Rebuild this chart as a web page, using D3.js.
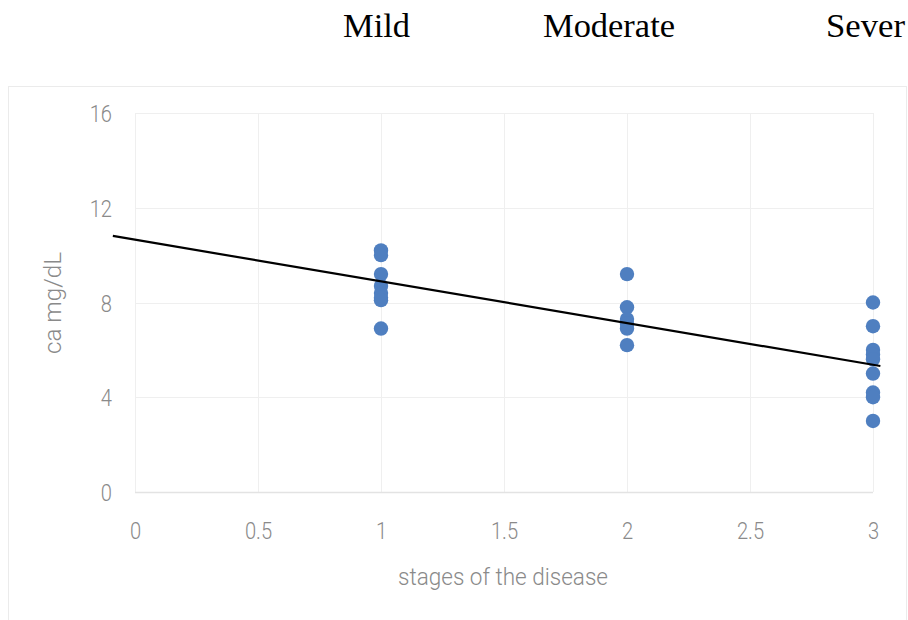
<!DOCTYPE html>
<html><head><meta charset="utf-8">
<script src="https://cdn.jsdelivr.net/npm/d3@7"></script>
<style>
html,body{margin:0;padding:0;background:#fff;}
svg{display:block;}
</style></head>
<body>
<svg id="chart" width="908" height="620"></svg>
<script>
// Data
const stages = [1, 2, 3];
const mildValues = [10.2, 10.0, 9.2, 8.7, 8.4, 8.2, 8.1, 6.9];
const moderateValues = [9.2, 7.8, 7.3, 7.1, 6.9, 6.2];
const severeValues = [8.0, 7.0, 6.0, 5.8, 5.6, 5.0, 4.2, 4.0, 3.0];
const trendX = [-0.09, 3.03];
const trendY = [10.81, 5.32];
const xTicks = [0, 0.5, 1, 1.5, 2, 2.5, 3];
const yTicks = [0, 4, 8, 12, 16];
const headerLabels = ["Mild", "Moderate", "Sever"];

(function () {
const svg = d3.select("#chart");
const pLeft = 135, pRight = 873, pTop = 113, pBottom = 492;
const x = d3.scaleLinear().domain([0, 3]).range([pLeft, pRight]);
const y = d3.scaleLinear().domain([0, 16]).range([pBottom, pTop]);

// outer chart border
svg.append("rect").attr("x", 8.5).attr("y", 86.5).attr("width", 898).attr("height", 540)
  .attr("fill", "none").attr("stroke", "#ebebeb").attr("stroke-width", 1);

// header labels
const headerPos = [{x: 343, w: 67}, {x: 543, w: 132}, {x: 826, w: 79}];
svg.selectAll("text.hdr").data(headerLabels).join("text")
  .attr("class", "hdr")
  .attr("x", (d, i) => headerPos[i].x)
  .attr("y", 37)
  .attr("textLength", (d, i) => headerPos[i].w)
  .attr("lengthAdjust", "spacingAndGlyphs")
  .attr("font-family", "'Liberation Serif', 'Times New Roman', serif")
  .attr("font-size", 34)
  .attr("fill", "#000")
  .text(d => d);

// gridlines
const grid = svg.append("g");
grid.selectAll("line.h").data(yTicks.filter(d => d > 0)).join("line")
  .attr("x1", pLeft).attr("x2", pRight)
  .attr("y1", d => Math.round(y(d)) + 0.5).attr("y2", d => Math.round(y(d)) + 0.5)
  .attr("stroke", "#efefef").attr("stroke-width", 1);
grid.selectAll("line.v").data(xTicks).join("line")
  .attr("y1", pTop).attr("y2", pBottom)
  .attr("x1", d => Math.round(x(d)) + 0.5).attr("x2", d => Math.round(x(d)) + 0.5)
  .attr("stroke", "#efefef").attr("stroke-width", 1);
// x axis line
svg.append("line").attr("x1", pLeft).attr("x2", pRight)
  .attr("y1", Math.round(y(0)) + 0.5).attr("y2", Math.round(y(0)) + 0.5)
  .attr("stroke", "#e3e3e3").attr("stroke-width", 1.5);

const tickFont = "Roboto, 'Noto Sans', sans-serif";
const tickColor = "#8a8a8a";

// y axis
const yAxis = d3.axisLeft(y).tickValues(yTicks).tickSize(0).tickPadding(0).tickFormat(d3.format("d"));
const yg = svg.append("g").attr("transform", `translate(112,0)`).call(yAxis);
yg.select(".domain").remove();
yg.selectAll("text").attr("font-family", tickFont).attr("font-size", 24).attr("font-weight", 300)
  .attr("fill", tickColor).attr("dy", "0.36em").attr("text-anchor", "end")
  .attr("transform", "scale(0.84,1)");

// x axis
const xAxis = d3.axisBottom(x).tickValues(xTicks).tickSize(0).tickPadding(0)
  .tickFormat(d => String(d));
const xg = svg.append("g").attr("transform", `translate(0,${pBottom})`).call(xAxis);
xg.select(".domain").remove();
xg.selectAll("text").attr("font-family", tickFont).attr("font-size", 24).attr("font-weight", 300)
  .attr("fill", tickColor).attr("dy", 0).attr("y", 47)
  .attr("transform", "scale(0.84,1)");

// axis titles
svg.append("text").attr("x", 503).attr("y", 585).attr("text-anchor", "middle")
  .attr("font-family", tickFont).attr("font-size", 24).attr("font-weight", 300).attr("fill", tickColor)
  .attr("textLength", 210).attr("lengthAdjust", "spacingAndGlyphs")
  .text("stages of the disease");
svg.append("text").attr("transform", "translate(61,303) rotate(-90)").attr("text-anchor", "middle")
  .attr("font-family", tickFont).attr("font-size", 24).attr("font-weight", 300).attr("fill", tickColor)
  .attr("textLength", 102).attr("lengthAdjust", "spacingAndGlyphs")
  .text("ca  mg/dL");

// points
const groups = [mildValues, moderateValues, severeValues];
const pts = [];
groups.forEach((vals, i) => vals.forEach(v => pts.push({x: stages[i], y: v})));
svg.append("g").selectAll("circle").data(pts).join("circle")
  .attr("cx", d => x(d.x)).attr("cy", d => y(d.y)).attr("r", 7.2)
  .attr("fill", "#4f7fc0");

// trend line
const line = d3.line().x(d => x(d[0])).y(d => y(d[1]));
svg.append("path").datum(trendX.map((v, i) => [v, trendY[i]]))
  .attr("d", line).attr("stroke", "#000").attr("stroke-width", 2.2).attr("fill", "none");
})();
</script>
</body></html>
